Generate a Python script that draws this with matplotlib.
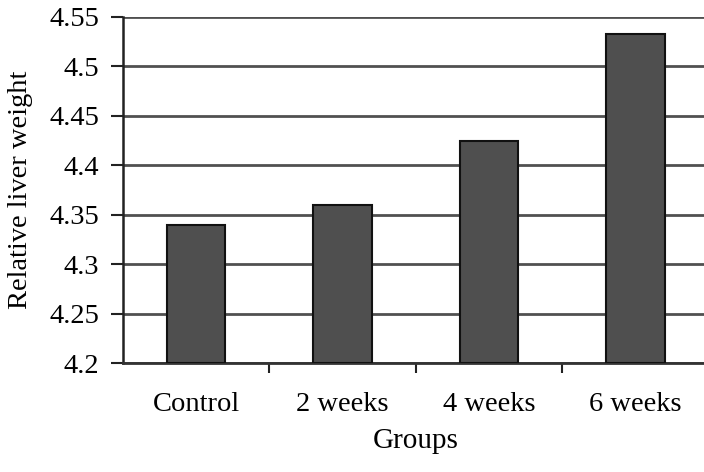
import matplotlib.pyplot as plt
import numpy as np

groups = ['Control', '2 weeks', '4 weeks', '6 weeks']
liver_weight = [4.34, 4.36, 4.425, 4.533]
y_ticks = [4.2, 4.25, 4.3, 4.35, 4.4, 4.45, 4.5, 4.55]
y_tick_labels = ['4.2', '4.25', '4.3', '4.35', '4.4', '4.45', '4.5', '4.55']

plt.rcParams['font.family'] = ['Liberation Serif', 'DejaVu Serif']

fig = plt.figure(figsize=(7.04, 4.72), dpi=100)
ax = fig.add_axes([0.1747, 0.2309, 0.832, 0.7331])

x = np.arange(len(groups))
ax.bar(x, [v - 4.2 for v in liver_weight], bottom=4.2, width=0.4,
       color='#4f4f4f', edgecolor='#111111', linewidth=1.5, zorder=3)

ax.set_xlim(-0.5, 3.5)
ax.set_ylim(4.2, 4.55)
ax.set_yticks(y_ticks)
ax.set_yticklabels(y_tick_labels)
ax.yaxis.grid(True, color='#505050', linewidth=2, zorder=0)
ax.set_axisbelow(True)

ax.set_xticks(x)
ax.set_xticklabels(groups)
ax.set_xticks([0.5, 1.5, 2.5], minor=True)
ax.tick_params(axis='x', which='major', length=0, pad=21, labelsize=20.5)
ax.tick_params(axis='x', which='minor', length=7, width=1.5, direction='out', color='#222222')
ax.tick_params(axis='y', length=9, width=1.5, pad=8, labelsize=20.5, color='#222222')

for s in ['top', 'right']:
    ax.spines[s].set_visible(False)
ax.spines['left'].set_linewidth(1.8)
ax.spines['left'].set_color('#222222')
ax.spines['bottom'].set_linewidth(2)
ax.spines['bottom'].set_color('#333333')

ax.set_xlabel('Groups', fontsize=21, labelpad=8)
ax.set_ylabel('Relative liver weight', fontsize=20.5, labelpad=12)

fig.savefig('out.png', dpi=100)
